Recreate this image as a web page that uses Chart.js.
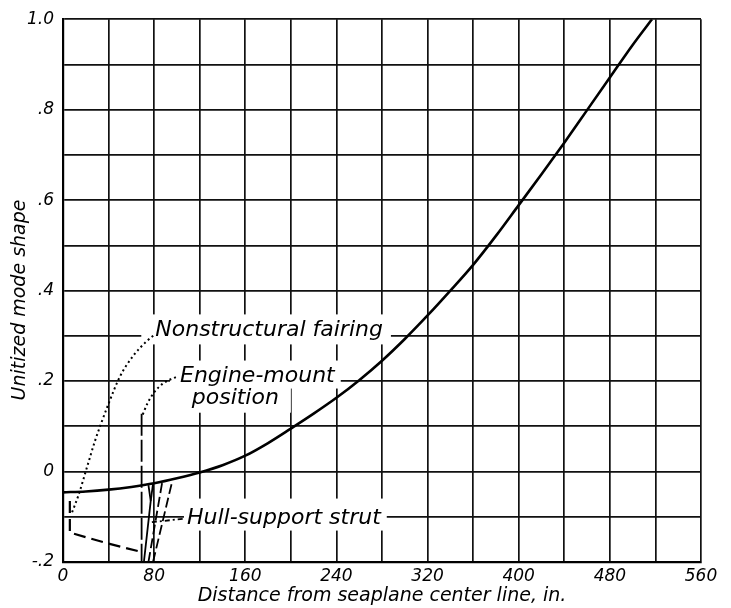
<!DOCTYPE html>
<html>
<head>
<meta charset="utf-8">
<script src="https://cdn.jsdelivr.net/npm/chart.js@4.4.1/dist/chart.umd.min.js"></script>
<style>
  html, body { margin: 0; padding: 0; background: #fff; }
  #wrap { width: 731px; height: 608px; }
</style>
</head>
<body>
<div id="wrap"><canvas id="c" width="731" height="608"></canvas></div>
<script>
// Fundamental wing mode shape, distance from center line (in.)
const modeX = [0, 20, 40, 60, 80, 100, 120, 140, 160, 180, 200, 220, 240, 260, 280, 300, 320, 340, 360, 380, 400, 420, 440, 460, 480, 500, 517];
const modeY = [-0.046, -0.044, -0.040, -0.034, -0.026, -0.015, -0.002, 0.014, 0.035, 0.063, 0.095, 0.128, 0.163, 0.202, 0.245, 0.293, 0.345, 0.400, 0.457, 0.521, 0.589, 0.657, 0.727, 0.799, 0.871, 0.943, 1.0];

// Nonstructural fairing (dotted)
const fairingX = [8, 13.5, 21, 28, 34, 40, 50, 62, 73, 81];
const fairingY = [-0.09, -0.053, 0.009, 0.067, 0.11, 0.15, 0.21, 0.257, 0.287, 0.304];

// Engine-mount position: vertical line and its dotted leader
const engineX = [69, 69];
const engineY = [0.128, -0.2];
const engineLeaderX = [70, 74, 80, 88, 100];
const engineLeaderY = [0.126, 0.15, 0.175, 0.195, 0.21];

// Hull-support strut: dashed run near the hull, steep strut lines and leader
const hullX = [6, 6, 38, 69];
const hullY = [-0.065, -0.135, -0.158, -0.178];
const strutAX = [71, 77, 75];
const strutAY = [-0.2, -0.065, -0.03];
const strutBX = [77, 79];
const strutBY = [-0.065, -0.028];
const strutCX = [75, 87];
const strutCY = [-0.2, -0.025];
const strutDX = [79, 96];
const strutDY = [-0.2, -0.02];
const hullLeaderX = [78, 107];
const hullLeaderY = [-0.112, -0.104];

// Axis ticks
const xMin = 0, xMax = 560, xStep = 40, xLabelEvery = 80;
const yMin = -0.2, yMax = 1.0, yStep = 0.1;
const yTickText = { '-2': '-.2', '0': '0', '2': '.2', '4': '.4', '6': '.6', '8': '.8', '10': '1.0' };

const pts = (xs, ys) => xs.map((x, i) => ({ x: x, y: ys[i] }));

const FONT = '"DejaVu Sans", sans-serif';
const INK = '#000';

function line(data, opts) {
  return Object.assign({
    data: data,
    showLine: true,
    pointRadius: 0,
    pointHoverRadius: 0,
    borderColor: INK,
    borderWidth: 2,
    fill: false,
    tension: 0
  }, opts || {});
}

// Annotation labels, anchored in data coordinates (left edge, vertical middle)
const notes = [
  { text: 'Nonstructural fairing', x: 81, y: 0.312, box: [-14, -16, 8, 14] },
  { text: 'Engine-mount', x: 102.7, y: 0.21, box: [-10, -16, 6, 12] },
  { text: 'position', x: 113, y: 0.161, box: [-8, -12, 12, 14] },
  { text: 'Hull-support strut', x: 108.8, y: -0.104, box: [-3, -20, 6, 12] }
];
const noteFont = 'italic 22px ' + FONT;

const notesPlugin = {
  id: 'notes',
  beforeDatasetsDraw(chart) {
    const ctx = chart.ctx, xs = chart.scales.x, ys = chart.scales.y;
    ctx.save();
    ctx.font = noteFont;
    ctx.fillStyle = '#fff';
    notes.forEach(n => {
      const px = xs.getPixelForValue(n.x), py = ys.getPixelForValue(n.y);
      const w = ctx.measureText(n.text).width;
      ctx.fillRect(px + n.box[0], py + n.box[1], w - n.box[0] + n.box[2], -n.box[1] + n.box[3]);
    });
    ctx.restore();
  },
  afterDatasetsDraw(chart) {
    const ctx = chart.ctx, xs = chart.scales.x, ys = chart.scales.y;
    ctx.save();
    ctx.font = noteFont;
    ctx.fillStyle = INK;
    ctx.textBaseline = 'middle';
    ctx.textAlign = 'left';
    notes.forEach(n => {
      ctx.fillText(n.text, xs.getPixelForValue(n.x), ys.getPixelForValue(n.y));
    });
    // vertical axis title
    ctx.font = 'italic 19px ' + FONT;
    ctx.textAlign = 'center';
    ctx.translate(20, 300);
    ctx.rotate(-Math.PI / 2);
    ctx.fillText('Unitized mode shape', 0, 0);
    ctx.restore();
  }
};

new Chart(document.getElementById('c'), {
  type: 'scatter',
  data: {
    datasets: [
      line(pts(modeX, modeY), { borderWidth: 2.6, cubicInterpolationMode: 'monotone' }),
      line(pts(fairingX, fairingY), { borderWidth: 2, borderDash: [2, 3], cubicInterpolationMode: 'monotone' }),
      line(pts(engineX, engineY), { borderWidth: 1.8, borderDash: [22, 4] }),
      line(pts(engineLeaderX, engineLeaderY), { borderWidth: 2, borderDash: [2, 3], cubicInterpolationMode: 'monotone' }),
      line(pts(hullX, hullY), { borderWidth: 2.2, borderDash: [12, 6] }),
      line(pts(strutAX, strutAY), { borderWidth: 1.8 }),
      line(pts(strutBX, strutBY), { borderWidth: 1.8 }),
      line(pts(strutCX, strutCY), { borderWidth: 1.8, borderDash: [10, 4] }),
      line(pts(strutDX, strutDY), { borderWidth: 1.8, borderDash: [10, 4] }),
      line(pts(hullLeaderX, hullLeaderY), { borderWidth: 1.8, borderDash: [5, 3, 2, 3] })
    ]
  },
  options: {
    responsive: false,
    animation: false,
    devicePixelRatio: 1,
    layout: { padding: { left: 0, top: 14, right: 30, bottom: 0 } },
    plugins: { legend: { display: false }, tooltip: { enabled: false } },
    scales: {
      x: {
        type: 'linear',
        min: xMin, max: xMax,
        afterFit(scale) { scale.height = 46; },
        ticks: {
          stepSize: xStep,
          autoSkip: false,
          maxRotation: 0,
          padding: 4,
          color: INK,
          font: { family: FONT, size: 17, style: 'italic' },
          callback: v => (v % xLabelEvery === 0 ? String(v) : '')
        },
        grid: { color: '#111', lineWidth: 1.7, drawTicks: false },
        border: { display: true, color: INK, width: 2.2 },
        title: {
          display: true,
          text: 'Distance from seaplane center line, in.',
          color: INK,
          font: { family: FONT, size: 19, style: 'italic' },
          padding: { top: 0, bottom: 1 }
        }
      },
      y: {
        type: 'linear',
        min: yMin, max: yMax,
        afterFit(scale) { scale.width = 63; },
        ticks: {
          stepSize: yStep,
          autoSkip: false,
          padding: 9,
          color: INK,
          font: { family: FONT, size: 17, style: 'italic' },
          callback: v => {
            const k = String(Math.round(v * 10));
            return yTickText[k] !== undefined ? yTickText[k] : '';
          }
        },
        grid: { color: '#111', lineWidth: 1.7, drawTicks: false },
        border: { display: true, color: INK, width: 2.2 }
      }
    }
  },
  plugins: [notesPlugin]
});
</script>
</body>
</html>
